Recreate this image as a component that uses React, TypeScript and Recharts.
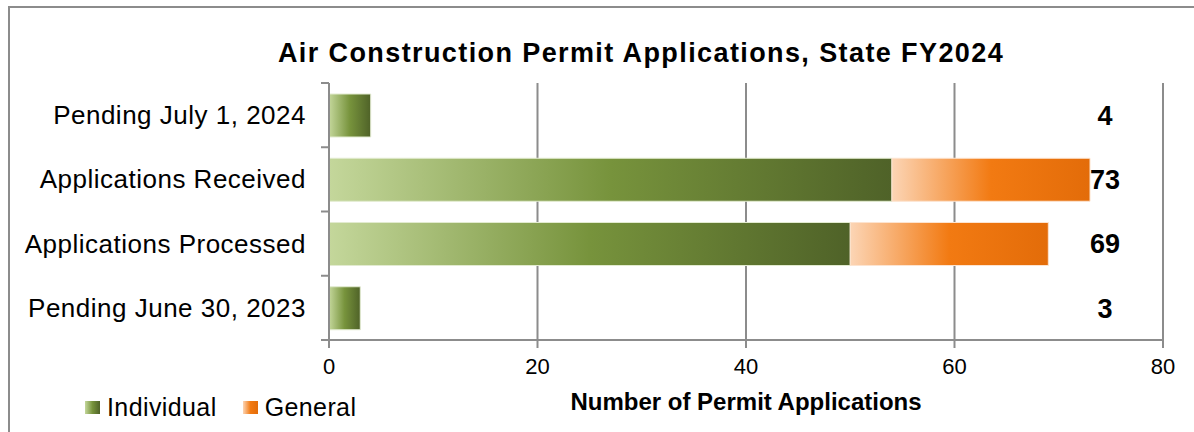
import { BarChart, Bar, XAxis, YAxis, CartesianGrid, Legend, LabelList } from "recharts";

const categories = [
  "Pending July 1, 2024",
  "Applications Received",
  "Applications Processed",
  "Pending June 30, 2023",
];
const individual = [4, 54, 50, 3];
const general = [0, 19, 19, 0];
const totals = [4, 73, 69, 3];
const xTicks = [0, 20, 40, 60, 80];

const data = categories.map((name, i) => ({
  name,
  individual: individual[i],
  general: general[i],
  total: totals[i],
}));

const W = 1194;
const H = 432;
const PLOT_LEFT = 329;
const PLOT_RIGHT = 1163;
const PLOT_TOP = 83;
const PLOT_BOTTOM = 340;
const LABEL_X = 1105;
const AXIS = "#8c8c8c";
const FONT = "'Liberation Sans', Arial, sans-serif";

const CategoryTick = (props: any) => {
  const { x, y, payload, index } = props;
  const half = (PLOT_BOTTOM - PLOT_TOP) / categories.length / 2;
  return (
    <g>
      <line x1={PLOT_LEFT - 8} x2={PLOT_LEFT} y1={y - half} y2={y - half} stroke={AXIS} strokeWidth={2} />
      {index === categories.length - 1 && (
        <line x1={PLOT_LEFT - 8} x2={PLOT_LEFT} y1={y + half} y2={y + half} stroke={AXIS} strokeWidth={2} />
      )}
      <text x={x} y={y} dy="0.35em" textAnchor="end" fontSize={26} letterSpacing={0.5} fill="#000">
        {payload.value}
      </text>
    </g>
  );
};

const renderTotal = (props: any) => {
  const { y, height, value } = props;
  return (
    <text
      x={LABEL_X}
      y={Number(y) + Number(height) / 2}
      dy="0.35em"
      textAnchor="middle"
      fontSize={27}
      fontWeight="bold"
      fill="#000"
    >
      {value}
    </text>
  );
};

const renderLegend = () => (
  <div style={{ display: "flex", alignItems: "center", fontSize: 25, letterSpacing: 0.4, color: "#000", lineHeight: "28px" }}>
    <svg width={15} height={13} style={{ marginRight: 7 }}>
      <rect width={15} height={13} fill="url(#gradIndividual)" />
    </svg>
    <span style={{ marginRight: 26 }}>Individual</span>
    <svg width={15} height={13} style={{ marginRight: 7 }}>
      <rect width={15} height={13} fill="url(#gradGeneral)" />
    </svg>
    <span>General</span>
  </div>
);

export default function App() {
  return (
    <div style={{ position: "absolute", left: 0, top: 0, width: W, height: H, overflow: "hidden", background: "#fff", fontFamily: FONT }}>
      <div
        style={{
          position: "absolute",
          left: 8,
          top: 6,
          width: W + 20,
          height: H + 20,
          borderLeft: `2px solid ${AXIS}`,
          borderTop: `2px solid ${AXIS}`,
        }}
      />
      <div
        style={{
          position: "absolute",
          left: 641,
          top: 38,
          transform: "translateX(-50%)",
          fontSize: 27,
          fontWeight: "bold",
          letterSpacing: 1.4,
          lineHeight: "30px",
          whiteSpace: "nowrap",
          color: "#000",
        }}
      >
        Air Construction Permit Applications, State FY2024
      </div>
      <BarChart
        layout="vertical"
        width={W}
        height={H}
        data={data}
        margin={{ top: PLOT_TOP, right: W - PLOT_RIGHT, bottom: 0, left: 0 }}
        barSize={43}
      >
        <defs>
          <linearGradient id="gradIndividual" x1="0" y1="0" x2="1" y2="0">
            <stop offset="0%" stopColor="#c4d79b" />
            <stop offset="50%" stopColor="#77933c" />
            <stop offset="100%" stopColor="#4f6228" />
          </linearGradient>
          <linearGradient id="gradGeneral" x1="0" y1="0" x2="1" y2="0">
            <stop offset="0%" stopColor="#fcd5b5" />
            <stop offset="50%" stopColor="#f27a12" />
            <stop offset="100%" stopColor="#e36c09" />
          </linearGradient>
        </defs>
        <CartesianGrid horizontal={false} stroke={AXIS} strokeWidth={2} />
        <XAxis
          type="number"
          domain={[0, 80]}
          ticks={xTicks}
          interval={0}
          height={H - PLOT_BOTTOM}
          tickSize={8}
          tickMargin={10}
          stroke={AXIS}
          strokeWidth={2}
          tick={{ fill: "#000", fontSize: 22 }}
          label={{
            value: "Number of Permit Applications",
            position: "insideTop",
            offset: 53,
            fill: "#000",
            fontSize: 24,
            fontWeight: "bold",
          }}
        />
        <YAxis
          type="category"
          dataKey="name"
          width={PLOT_LEFT}
          tickSize={0}
          tickMargin={23}
          tickLine={false}
          stroke={AXIS}
          strokeWidth={2}
          tick={<CategoryTick />}
        />
        <Legend
          layout="vertical"
          align="center"
          verticalAlign="middle"
          wrapperStyle={{ left: 85, top: 393, width: 400 }}
          content={renderLegend}
        />
        <Bar
          dataKey="individual"
          name="Individual"
          stackId="a"
          fill="url(#gradIndividual)"
          stroke="#e2ebd0"
          strokeWidth={1}
          isAnimationActive={false}
        >
          <LabelList dataKey="total" content={renderTotal} />
        </Bar>
        <Bar
          dataKey="general"
          name="General"
          stackId="a"
          fill="url(#gradGeneral)"
          stroke="#fde4d0"
          strokeWidth={1}
          isAnimationActive={false}
        />
      </BarChart>
    </div>
  );
}
